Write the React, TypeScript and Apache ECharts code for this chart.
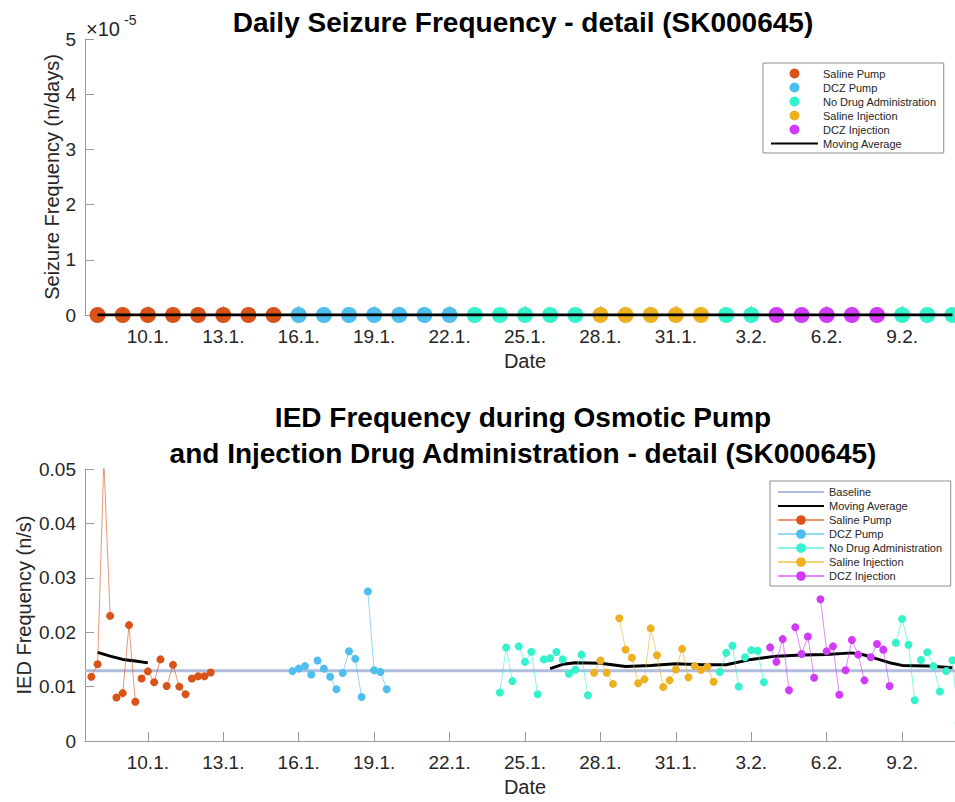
import React, { useEffect, useRef } from "react";
import * as echarts from "echarts";

// ---------- shared axis (day numbers: 1 = 1 Jan, 32 = 1 Feb) ----------
const tickDays = [10, 13, 16, 19, 22, 25, 28, 31, 34, 37, 40];
const tickLabels = ["10.1.", "13.1.", "16.1.", "19.1.", "22.1.", "25.1.", "28.1.", "31.1.", "3.2.", "6.2.", "9.2."];
const X_MIN = 7.5;
const X_MAX = 42.5;

// ---------- top: daily seizure frequency ----------
const seizureSalinePumpDays = [8, 9, 10, 11, 12, 13, 14, 15];
const seizureSalinePump = [0, 0, 0, 0, 0, 0, 0, 0];
const seizureDczPumpDays = [16, 17, 18, 19, 20, 21, 22];
const seizureDczPump = [0, 0, 0, 0, 0, 0, 0];
const seizureNoDrugDays = [23, 24, 25, 26, 27, 33, 34, 40, 41, 42];
const seizureNoDrug = [0, 0, 0, 0, 0, 0, 0, 0, 0, 0];
const seizureSalineInjDays = [28, 29, 30, 31, 32];
const seizureSalineInj = [0, 0, 0, 0, 0];
const seizureDczInjDays = [35, 36, 37, 38, 39];
const seizureDczInj = [0, 0, 0, 0, 0];
const seizureMovingAvgDays = [8, 9, 10, 11, 12, 13, 14, 15, 16, 17, 18, 19, 20, 21, 22, 23, 24, 25, 26, 27, 28, 29, 30, 31, 32, 33, 34, 35, 36, 37, 38, 39, 40, 41, 42];
const seizureMovingAvg = [0, 0, 0, 0, 0, 0, 0, 0, 0, 0, 0, 0, 0, 0, 0, 0, 0, 0, 0, 0, 0, 0, 0, 0, 0, 0, 0, 0, 0, 0, 0, 0, 0, 0, 0];

// ---------- bottom: IED frequency, one sample every 6 h ----------
const sampleStep = 0.25;
const iedBaseline = 0.0129;

const iedSalinePumpStart = 7.75;
const iedSalinePump = [0.0118, 0.0141, 0.0515, 0.023, 0.008, 0.0088, 0.0213, 0.0072, 0.0115, 0.0128, 0.0108, 0.015, 0.0101, 0.014, 0.01, 0.0086, 0.0115, 0.0119, 0.0119, 0.0126];

const iedDczPumpStart = 15.75;
const iedDczPump = [0.01285, 0.0133, 0.01376, 0.01224, 0.01479, 0.0133, 0.0118, 0.0095, 0.0125, 0.0165, 0.0151, 0.0081, 0.0275, 0.013, 0.0127, 0.0095];

const iedNoDrugStart1 = 24.0;
const iedNoDrug1 = [0.0089, 0.0172, 0.011, 0.0174, 0.01455, 0.0164, 0.0086, 0.015, 0.0152, 0.01636, 0.015, 0.01236, 0.0131, 0.01588, 0.0084];
const iedNoDrugStart2 = 32.75;
const iedNoDrug2 = [0.0127, 0.0162, 0.0175, 0.01, 0.0154, 0.0167, 0.0166, 0.0108];
const iedNoDrugStart3 = 39.75;
const iedNoDrug3 = [0.01806, 0.02242, 0.0177, 0.0075, 0.0149, 0.0163, 0.01376, 0.0091, 0.01285, 0.01485, 0.0032];

const iedSalineInjStart = 27.75;
const iedSalineInj = [0.01255, 0.0148, 0.01255, 0.0105, 0.02255, 0.0168, 0.0153, 0.0106, 0.01133, 0.0207, 0.01576, 0.00994, 0.01115, 0.01315, 0.01694, 0.0117, 0.01376, 0.01305, 0.01365, 0.01088];

const iedDczInjStart = 34.75;
const iedDczInj = [0.01721, 0.01455, 0.01873, 0.00933, 0.0209, 0.016, 0.0192, 0.01164, 0.02606, 0.01649, 0.0174, 0.0085, 0.013, 0.01855, 0.01588, 0.01115, 0.0154, 0.01782, 0.01679, 0.01012];

const iedMovingAvgDays1 = [8, 8.5, 9, 9.5, 10];
const iedMovingAvg1 = [0.0163, 0.0156, 0.015, 0.0147, 0.01436];
const iedMovingAvgDays2 = [26, 26.5, 27, 28, 29, 30, 31, 32, 33, 34, 35, 36, 37, 38, 38.5, 39, 39.5, 40, 41, 42];
const iedMovingAvg2 = [0.0133, 0.0141, 0.0144, 0.0143, 0.0137, 0.0139, 0.0142, 0.014, 0.014, 0.015, 0.0156, 0.0158, 0.0159, 0.0162, 0.0158, 0.0151, 0.0144, 0.0139, 0.0138, 0.01345];

// ---------- styles ----------
const FONT = '"Liberation Sans", Arial, Helvetica, sans-serif';
const TEXT = "#262626";
const AXIS = "#9a9a9a";
const C_SALINE_PUMP = "#D95319";
const C_DCZ_PUMP = "#4DBEEE";
const C_NO_DRUG = "#33F2CC";
const C_SALINE_INJ = "#EDB120";
const C_DCZ_INJ = "#D03AF8";
const C_BASELINE = "#B0BDDD";

const GAP: any = "-";

// Samples of one recording block (18:00 .. 12:00) are joined; blocks are not.
function runPoints(start: number, values: number[]) {
  const out: any[] = [];
  values.forEach((v, i) => {
    const t = start + i * sampleStep;
    if (i > 0 && Math.floor(t + 0.25) !== Math.floor(t - sampleStep + 0.25)) {
      out.push([t - sampleStep / 2, GAP]);
    }
    out.push([t, v]);
  });
  return out;
}
function joinRuns(runs: any[][]) {
  const out: any[] = [];
  runs.forEach((r, k) => {
    if (k > 0) out.push([r[0][0] - sampleStep / 2, GAP]);
    out.push(...r);
  });
  return out;
}
function pairs(xs: number[], ys: number[]) {
  return xs.map((x, i) => [x, ys[i]]);
}

function dateAxis() {
  return {
    type: "value",
    min: X_MIN,
    max: X_MAX,
    axisLine: { show: true, onZero: false, lineStyle: { color: AXIS, width: 1 } },
    axisTick: { show: true, inside: true, length: 9, customValues: tickDays, lineStyle: { color: AXIS } },
    axisLabel: {
      show: true,
      customValues: tickDays,
      formatter: (v: number) => {
        const i = tickDays.indexOf(Math.round(v));
        return i >= 0 ? tickLabels[i] : "";
      },
      margin: 21,
      verticalAlign: "middle",
      fontSize: 19,
      color: TEXT,
      fontFamily: FONT,
    },
    splitLine: { show: false },
    name: "Date",
    nameLocation: "middle",
    nameGap: 46,
    nameMoveOverlap: false,
    nameTextStyle: { fontSize: 20, color: TEXT, fontFamily: FONT, verticalAlign: "middle" },
  };
}

function valueAxis(name: string, max: number, interval: number, fmt: (v: number) => string, nameGap: number) {
  return {
    type: "value",
    min: 0,
    max,
    interval,
    axisLine: { show: true, lineStyle: { color: AXIS, width: 1 } },
    axisTick: { show: true, inside: true, length: 9, lineStyle: { color: AXIS } },
    axisLabel: { formatter: fmt, margin: 9, fontSize: 19, color: TEXT, fontFamily: FONT },
    splitLine: { show: false },
    name,
    nameLocation: "middle",
    nameRotate: 90,
    nameGap,
    nameMoveOverlap: false,
    nameTextStyle: { fontSize: 20, color: TEXT, fontFamily: FONT, verticalAlign: "middle" },
  };
}

function titleText(text: string, y: number) {
  return {
    type: "text",
    x: 523,
    y,
    style: {
      text,
      fill: "#000",
      font: `bold 28px ${FONT}`,
      align: "center",
      textAlign: "center",
      verticalAlign: "middle",
      textVerticalAlign: "middle",
    },
  };
}

function legendBase(left: number, top: number, itemWidth: number, itemHeight: number, itemGap: number, padding: number[]) {
  return {
    orient: "vertical",
    left,
    top,
    itemWidth,
    itemHeight,
    itemGap,
    padding,
    borderColor: "#8f8f8f",
    borderWidth: 1,
    backgroundColor: "#fff",
    selectedMode: false,
    textStyle: { fontSize: 11, color: TEXT, fontFamily: FONT, lineHeight: itemHeight },
  };
}

// legend entry for a plain line (no marker)
function lineOnly(name: string) {
  return { name, itemStyle: { opacity: 0 } };
}

function scatterSeries(name: string, color: string, days: number[], vals: number[]) {
  return {
    type: "scatter",
    name,
    data: pairs(days, vals),
    symbol: "circle",
    symbolSize: 16,
    itemStyle: { color, opacity: 1 },
    emphasis: { disabled: true },
  };
}

function iedSeries(name: string, color: string, data: any[]) {
  return {
    type: "line",
    name,
    data,
    symbol: "circle",
    symbolSize: 8,
    showSymbol: true,
    connectNulls: false,
    itemStyle: { color },
    lineStyle: { color, width: 1, opacity: 0.6 },
    emphasis: { disabled: true },
  };
}

function topOption() {
  return {
    animation: false,
    textStyle: { fontFamily: FONT },
    grid: { left: 85, top: 39, width: 880, height: 276 },
    xAxis: { ...dateAxis(), axisLine: { show: true, onZero: true, lineStyle: { color: AXIS, width: 1 } } },
    yAxis: valueAxis("Seizure Frequency (n/days)", 5e-5, 1e-5, (v: number) => String(Math.round(v * 1e5)), 33),
    legend: {
      ...legendBase(763, 63, 47, 10, 3, [5, 7, 4, 7]),
      data: ["Saline Pump", "DCZ Pump", "No Drug Administration", "Saline Injection", "DCZ Injection", lineOnly("Moving Average")],
    },
    graphic: [
      titleText("Daily Seizure Frequency - detail (SK000645)", 22.5),
      {
        type: "text",
        x: 86,
        y: 29,
        style: { text: "×10", fill: TEXT, font: `20px ${FONT}`, align: "left", textAlign: "left", verticalAlign: "middle", textVerticalAlign: "middle" },
      },
      {
        type: "text",
        x: 124,
        y: 20,
        style: { text: "-5", fill: TEXT, font: `14px ${FONT}`, align: "left", textAlign: "left", verticalAlign: "middle", textVerticalAlign: "middle" },
      },
    ],
    series: [
      scatterSeries("Saline Pump", C_SALINE_PUMP, seizureSalinePumpDays, seizureSalinePump),
      scatterSeries("DCZ Pump", C_DCZ_PUMP, seizureDczPumpDays, seizureDczPump),
      scatterSeries("No Drug Administration", C_NO_DRUG, seizureNoDrugDays, seizureNoDrug),
      scatterSeries("Saline Injection", C_SALINE_INJ, seizureSalineInjDays, seizureSalineInj),
      scatterSeries("DCZ Injection", C_DCZ_INJ, seizureDczInjDays, seizureDczInj),
      {
        type: "line",
        name: "Moving Average",
        data: pairs(seizureMovingAvgDays, seizureMovingAvg),
        symbol: "none",
        lineStyle: { color: "#000", width: 3 },
        itemStyle: { color: "#000" },
        emphasis: { disabled: true },
      },
    ],
  };
}

function bottomOption() {
  return {
    animation: false,
    textStyle: { fontFamily: FONT },
    grid: { left: 85, top: 79, width: 880, height: 275 },
    xAxis: dateAxis(),
    yAxis: valueAxis("IED Frequency (n/s)", 0.05, 0.01, (v: number) => (v === 0 ? "0" : v.toFixed(2)), 61),
    legend: {
      ...legendBase(770, 91, 46, 12, 2, [5, 8, 4, 7]),
      data: [lineOnly("Baseline"), lineOnly("Moving Average"), "Saline Pump", "DCZ Pump", "No Drug Administration", "Saline Injection", "DCZ Injection"],
    },
    graphic: [
      titleText("IED Frequency during Osmotic Pump", 27.5),
      titleText("and Injection Drug Administration - detail (SK000645)", 63.5),
    ],
    series: [
      {
        type: "line",
        name: "Baseline",
        data: [[X_MIN, iedBaseline], [X_MAX, iedBaseline]],
        symbol: "none",
        lineStyle: { color: C_BASELINE, width: 3 },
        itemStyle: { color: C_BASELINE },
        emphasis: { disabled: true },
      },
      {
        type: "line",
        name: "Moving Average",
        data: [...pairs(iedMovingAvgDays1, iedMovingAvg1), [18, GAP], ...pairs(iedMovingAvgDays2, iedMovingAvg2)],
        symbol: "none",
        connectNulls: false,
        lineStyle: { color: "#000", width: 3 },
        itemStyle: { color: "#000" },
        emphasis: { disabled: true },
      },
      iedSeries("Saline Pump", C_SALINE_PUMP, runPoints(iedSalinePumpStart, iedSalinePump)),
      iedSeries("DCZ Pump", C_DCZ_PUMP, runPoints(iedDczPumpStart, iedDczPump)),
      iedSeries(
        "No Drug Administration",
        C_NO_DRUG,
        joinRuns([
          runPoints(iedNoDrugStart1, iedNoDrug1),
          runPoints(iedNoDrugStart2, iedNoDrug2),
          runPoints(iedNoDrugStart3, iedNoDrug3),
        ])
      ),
      iedSeries("Saline Injection", C_SALINE_INJ, runPoints(iedSalineInjStart, iedSalineInj)),
      iedSeries("DCZ Injection", C_DCZ_INJ, runPoints(iedDczInjStart, iedDczInj)),
    ],
  };
}

export default function App() {
  const topRef = useRef<HTMLDivElement>(null);
  const botRef = useRef<HTMLDivElement>(null);
  useEffect(() => {
    const top = echarts.init(topRef.current as HTMLDivElement, undefined, { renderer: "svg" });
    const bot = echarts.init(botRef.current as HTMLDivElement, undefined, { renderer: "svg" });
    top.setOption(topOption() as any);
    bot.setOption(bottomOption() as any);
    return () => {
      top.dispose();
      bot.dispose();
    };
  }, []);
  return (
    <div
      style={{
        position: "fixed",
        left: 0,
        top: 0,
        width: 955,
        height: 802,
        overflow: "hidden",
        background: "#fff",
      }}
    >
      <div ref={topRef} style={{ width: 1000, height: 390 }} />
      <div ref={botRef} style={{ width: 1000, height: 412 }} />
    </div>
  );
}
